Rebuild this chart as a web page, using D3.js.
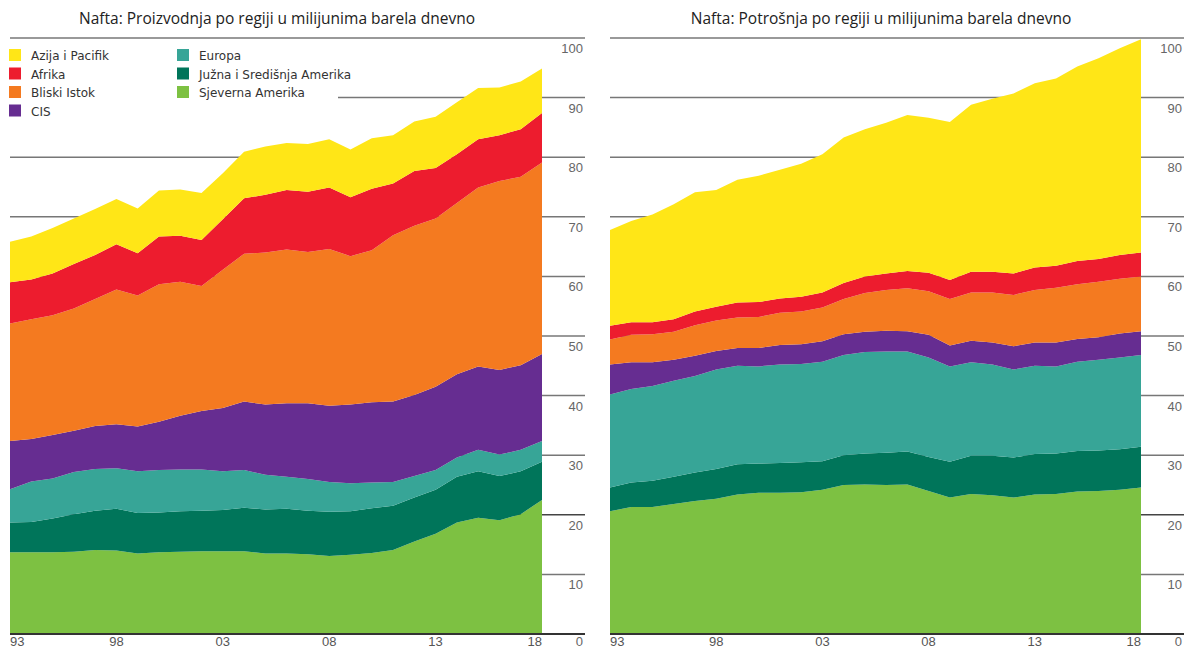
<!DOCTYPE html>
<html>
<head>
<meta charset="utf-8">
<script src="https://cdn.jsdelivr.net/npm/d3@7/dist/d3.min.js"></script>
<style>
  body { margin: 0; background: #fff; }
  svg { display: block; }
</style>
</head>
<body>
<svg id="container" width="1189" height="649"></svg>
<script>
// years 1993 - 2018
const years = d3.range(1993, 2019);

const regions = ["Sjeverna Amerika", "Južna i Središnja Amerika", "Europa", "CIS", "Bliski Istok", "Afrika", "Azija i Pacifik"];
const colors = ["#7DC142", "#00755A", "#37A597", "#662D91", "#F47A20", "#ED1C2E", "#FFE617"];

// Proizvodnja (million barrels daily)
const prodNA  = [13.7,13.7,13.7,13.8,14.1,14.0,13.5,13.7,13.8,13.9,13.9,13.9,13.5,13.5,13.4,13.1,13.3,13.6,14.1,15.5,16.8,18.7,19.5,19.1,20.1,22.5];
const prodSCA = [5.0,5.1,5.7,6.3,6.6,7.0,6.8,6.7,6.8,6.8,6.9,7.3,7.4,7.5,7.3,7.4,7.3,7.5,7.4,7.4,7.4,7.7,7.8,7.4,7.2,6.4];
const prodEur = [5.6,6.8,6.7,7.1,7.0,6.8,7.0,7.1,7.0,6.9,6.5,6.3,5.8,5.4,5.3,5.0,4.7,4.3,4.0,3.6,3.3,3.2,3.6,3.6,3.6,3.5];
const prodCIS = [8.1,7.1,7.3,6.9,7.2,7.4,7.5,8.1,9.0,9.8,10.6,11.5,11.8,12.3,12.7,12.8,13.2,13.5,13.5,13.6,14.0,14.0,14.0,14.2,14.2,14.6];
const prodME  = [19.7,20.1,20.1,20.5,21.3,22.6,22.0,23.1,22.5,21.0,23.2,24.8,25.5,25.8,25.4,26.3,24.9,25.5,27.9,28.4,28.2,28.7,30.0,31.7,31.6,32.1];
const prodAf  = [6.9,6.7,7.0,7.5,7.4,7.6,7.1,8.0,7.7,7.7,8.5,9.3,9.7,10.0,10.1,10.3,9.9,10.3,8.7,9.2,8.5,8.2,8.1,7.7,8.0,8.3];
const prodAP  = [6.8,7.2,7.6,7.6,7.7,7.6,7.5,7.7,7.8,7.9,7.7,7.8,8.1,7.9,8.0,8.1,8.0,8.5,8.1,8.3,8.6,8.7,8.6,8.0,8.0,7.5];

// Potrošnja
const consNA  = [20.6,21.3,21.3,21.8,22.3,22.7,23.4,23.7,23.7,23.8,24.2,25.0,25.1,25.0,25.1,24.0,22.9,23.5,23.3,22.9,23.4,23.5,23.9,24.0,24.2,24.6];
const consSCA = [4.0,4.1,4.4,4.6,4.8,5.0,5.1,4.9,5.0,5.0,4.8,5.0,5.2,5.4,5.5,5.7,6.0,6.4,6.6,6.7,6.8,6.8,6.8,6.8,6.8,6.8];
const consEur = [15.6,15.7,15.9,16.1,16.2,16.7,16.5,16.3,16.5,16.5,16.7,16.8,17.0,17.0,16.8,16.7,16.0,15.7,15.3,14.8,14.8,14.6,15.0,15.2,15.4,15.4];
const consCIS = [5.0,4.5,4.0,3.5,3.4,3.1,3.0,3.1,3.3,3.3,3.4,3.5,3.4,3.5,3.4,3.8,3.5,3.6,3.7,3.9,3.9,4.0,3.8,3.8,4.0,4.0];
const consME  = [4.2,4.6,4.7,4.7,5.1,5.1,5.1,5.2,5.4,5.5,5.7,5.9,6.5,6.8,7.2,7.3,7.8,8.1,8.4,8.6,8.8,9.2,9.2,9.3,9.2,9.2];
const consAf  = [2.3,2.1,2.0,2.1,2.3,2.3,2.5,2.5,2.4,2.5,2.5,2.7,2.8,2.8,2.9,3.1,3.2,3.5,3.5,3.6,3.8,3.7,3.9,3.8,4.0,4.0];
const consAP  = [16.1,17.0,18.1,19.3,20.0,19.6,20.6,21.2,21.6,22.3,23.2,24.4,24.7,25.3,26.2,26.0,26.5,28.0,29.0,30.2,30.9,31.4,32.6,33.7,34.7,35.8];

const yTicks = d3.range(0, 101, 10);
const xTickYears = [1993, 1998, 2003, 2008, 2013, 2018];

const svg = d3.select("#container");

function toRows(series) {
    return years.map((yr, i) => {
        let row = { year: yr };
        regions.forEach((r, j) => row[r] = series[j][i]);
        return row;
    });
}

function drawChart(opts) {
    let g = svg.append("g");

    let x = d3.scaleLinear().domain([1993, 2018]).range([opts.left, opts.right]);
    let y = d3.scaleLinear().domain([0, 100]).range([634, 38]);

    // gridlines (behind the areas)
    g.append("g").selectAll("line")
        .data(yTicks).enter()
        .append("line")
        .attr("x1", opts.left)
        .attr("x2", opts.gridEnd)
        .attr("y1", d => y(d))
        .attr("y2", d => y(d))
        .attr("stroke", d => d === 0 ? "#333" : (d === 20 ? "#444" : "#777"))
        .attr("stroke-width", d => d === 0 ? 2 : 1.5);

    let stack = d3.stack().keys(regions);
    let layers = stack(toRows(opts.series));

    let area = d3.area()
        .x(d => x(d.data.year))
        .y0(d => y(d[0]))
        .y1(d => y(d[1]));

    g.append("g").selectAll("path")
        .data(layers).enter()
        .append("path")
        .attr("d", area)
        .attr("fill", (d, i) => colors[i]);

    // baseline over areas
    g.append("line")
        .attr("x1", opts.left).attr("x2", opts.gridEnd)
        .attr("y1", y(0)).attr("y2", y(0))
        .attr("stroke", "#333").attr("stroke-width", 2);

    // y tick labels (right side, below line)
    g.append("g").selectAll("text")
        .data(yTicks.filter(d => d > 0)).enter()
        .append("text")
        .attr("x", opts.gridEnd - 2)
        .attr("y", d => y(d) + 15)
        .attr("text-anchor", "end")
        .style("font-family", "Liberation Sans, Arial, sans-serif")
        .style("font-size", "13px")
        .attr("fill", "#666")
        .text(d => d);

    // the zero label sits on the x label row
    g.append("text")
        .attr("x", opts.gridEnd - 2)
        .attr("y", 646)
        .attr("text-anchor", "end")
        .style("font-family", "Liberation Sans, Arial, sans-serif")
        .style("font-size", "13px")
        .attr("fill", "#666")
        .text("0");

    // x tick labels
    g.append("g").selectAll("text")
        .data(xTickYears).enter()
        .append("text")
        .attr("x", d => x(d))
        .attr("y", 646)
        .attr("text-anchor", (d, i) => i === 0 ? "start" : (i === xTickYears.length - 1 ? "end" : "middle"))
        .style("font-family", "Liberation Sans, Arial, sans-serif")
        .style("font-size", "13px")
        .attr("fill", "#555")
        .text(d => String(d).slice(2));

    // title
    svg.append("text")
        .attr("x", opts.titleX)
        .attr("y", 24)
        .attr("text-anchor", "middle")
        .style("font-family", "Open Sans, sans-serif")
        .style("font-size", "15.5px")
        .attr("fill", "#222")
        .text(opts.title);
}

drawChart({
    left: 10, right: 542, gridEnd: 585, titleX: 277,
    title: "Nafta: Proizvodnja po regiji u milijunima barela dnevno",
    series: [prodNA, prodSCA, prodEur, prodCIS, prodME, prodAf, prodAP]
});

drawChart({
    left: 610, right: 1141, gridEnd: 1184, titleX: 881,
    title: "Nafta: Potrošnja po regiji u milijunima barela dnevno",
    series: [consNA, consSCA, consEur, consCIS, consME, consAf, consAP]
});

// Legend (white box covering the gridline behind it)
let legend = svg.append("g");
legend.append("rect")
    .attr("x", 0).attr("y", 44)
    .attr("width", 338).attr("height", 78)
    .attr("fill", "#fff");

const legendOrder = ["Azija i Pacifik", "Afrika", "Bliski Istok", "CIS", "Europa", "Južna i Središnja Amerika", "Sjeverna Amerika"];
let items = legend.selectAll("g.item")
    .data(legendOrder).enter()
    .append("g")
    .attr("class", "item")
    .attr("transform", (d, i) => {
        let col = i < 4 ? 0 : 1;
        let row = i < 4 ? i : i - 4;
        return `translate(${col === 0 ? 9 : 177},${49 + row * 18.5})`;
    });

items.append("rect")
    .attr("width", 12).attr("height", 12)
    .attr("fill", d => colors[regions.indexOf(d)]);

items.append("text")
    .attr("x", 22)
    .attr("y", 11)
    .style("font-family", "DejaVu Sans, sans-serif")
    .style("font-size", "12px")
    .attr("fill", "#333")
    .text(d => d);
</script>
</body>
</html>
